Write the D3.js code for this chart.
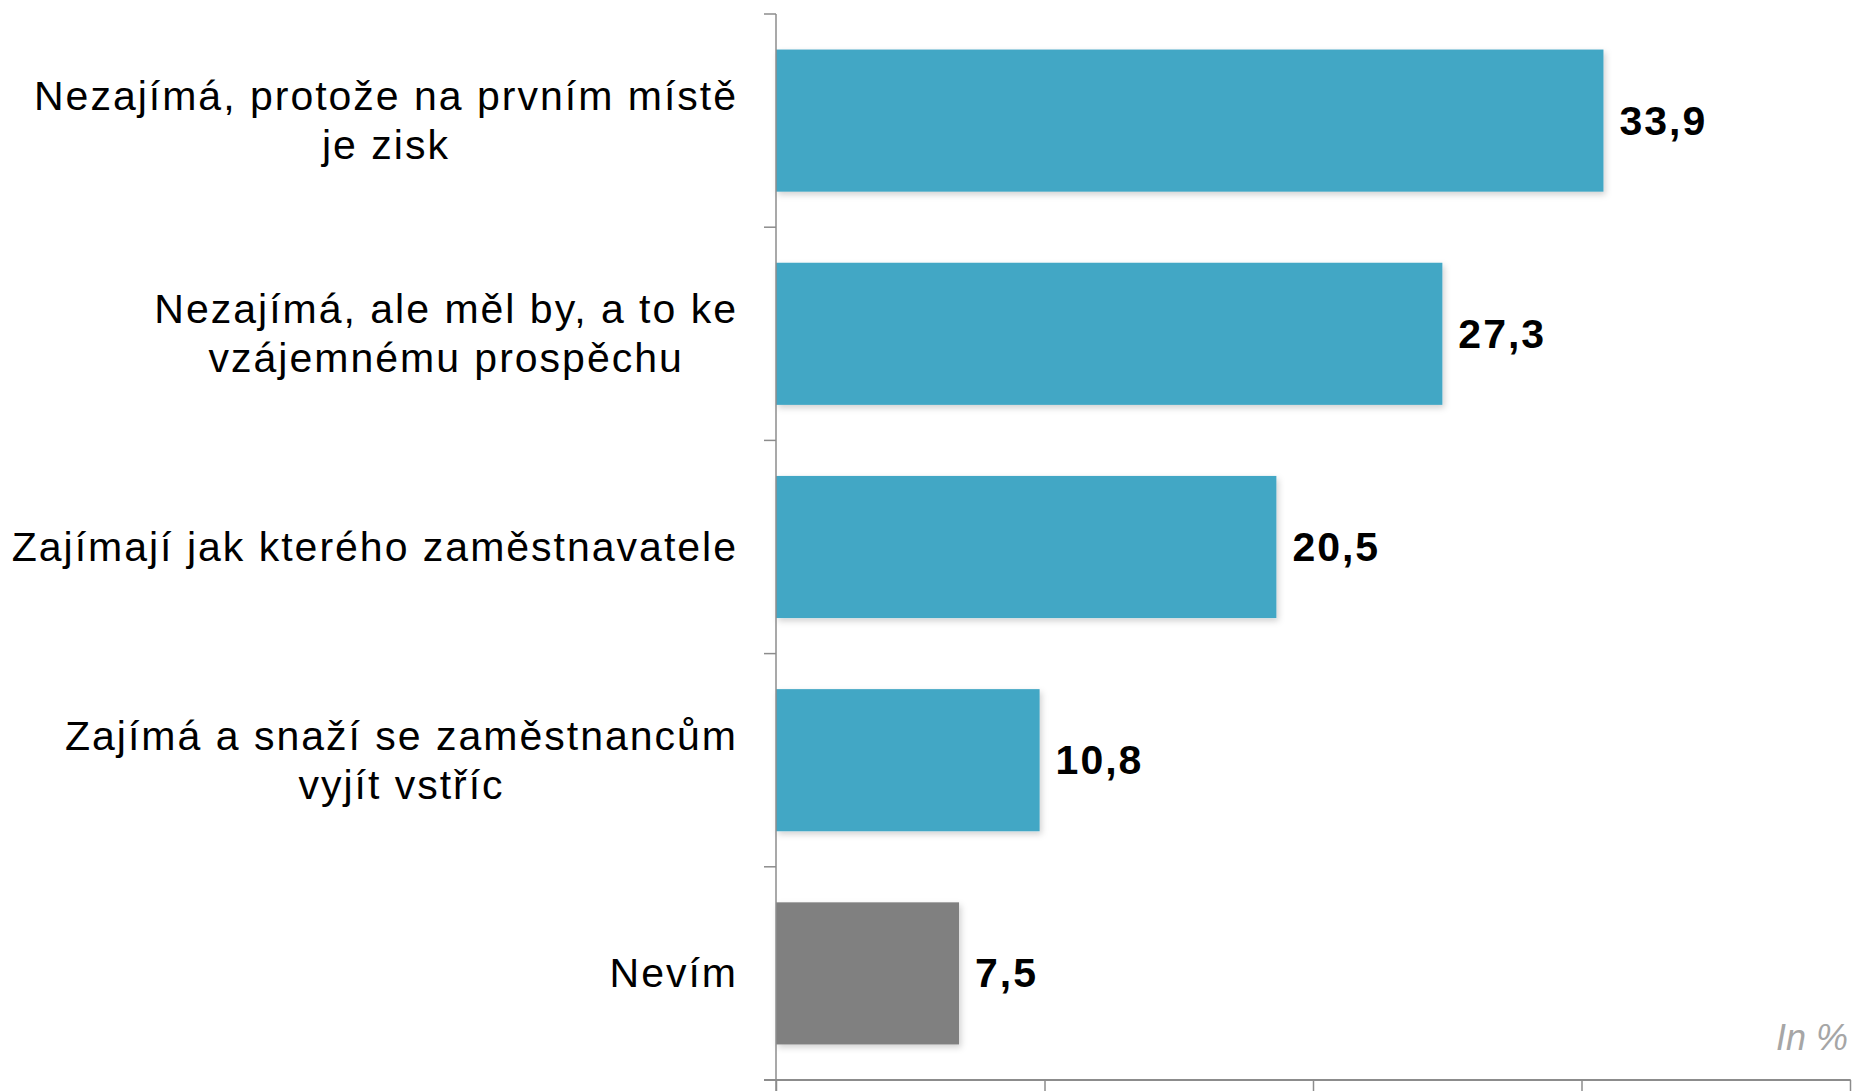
<!DOCTYPE html>
<html>
<head>
<meta charset="utf-8">
<script src="https://cdn.jsdelivr.net/npm/d3@7"></script>
<style>
  html, body { margin: 0; padding: 0; background: #fff; }
  svg { display: block; }
</style>
</head>
<body>
<script>
// Survey answers, one bar per answer (values in %)
const categories = [
  "Nezajímá, protože na prvním místě je zisk",
  "Nezajímá, ale měl by, a to ke vzájemnému prospěchu",
  "Zajímají jak kterého zaměstnavatele",
  "Zajímá a snaží se zaměstnancům vyjít vstříc",
  "Nevím"
];
// How each answer label breaks into lines
const labelLines = [
  ["Nezajímá, protože na prvním místě", "je zisk"],
  ["Nezajímá, ale měl by, a to ke", "vzájemnému prospěchu"],
  ["Zajímají jak kterého zaměstnavatele"],
  ["Zajímá a snaží se zaměstnancům", "vyjít vstříc"],
  ["Nevím"]
];
const values = [33.9, 27.3, 20.5, 10.8, 7.5];
const valueLabels = ["33,9", "27,3", "20,5", "10,8", "7,5"];
const xTicks = [0, 11, 22, 33, 44];
const unitNote = "In %";

const W = 1854, H = 1091;
const blue = "#43a7c5", grey = "#808080", axisCol = "#8c8c8c";
const font = "Liberation Sans, Arial, sans-serif";

const svg = d3.select("body").append("svg").attr("width", W).attr("height", H);

const defs = svg.append("defs");
const f = defs.append("filter").attr("id", "shadow")
  .attr("x", "-5%").attr("y", "-10%").attr("width", "115%").attr("height", "130%");
f.append("feDropShadow").attr("dx", 2).attr("dy", 3).attr("stdDeviation", 3)
  .attr("flood-color", "#000").attr("flood-opacity", 0.18);

const x = d3.scaleLinear().domain([0, 44]).range([776, 1850]);
const y = d3.scaleBand().domain(categories).range([14, 1080])
  .paddingInner(1 / 3).paddingOuter(1 / 6);

// Bars
svg.append("g").selectAll("rect").data(categories).join("rect")
  .attr("x", x(0))
  .attr("y", d => y(d))
  .attr("width", (d, i) => x(values[i]) - x(0))
  .attr("height", y.bandwidth())
  .attr("fill", (d, i) => i === categories.length - 1 ? grey : blue)
  .attr("filter", "url(#shadow)");

// Value labels
svg.append("g").selectAll("text").data(categories).join("text")
  .attr("x", (d, i) => x(values[i]) + 16)
  .attr("y", d => y(d) + y.bandwidth() / 2 + 14)
  .attr("font-family", font)
  .attr("font-weight", "bold")
  .attr("font-size", 41)
  .attr("letter-spacing", 2)
  .attr("fill", "#000")
  .text((d, i) => valueLabels[i]);

// Category labels: block right-aligned against the axis, lines centred within it
const lineGap = 49;
const labelRight = 738;
const lab = svg.append("g").selectAll("g").data(categories).join("g")
  .attr("transform", d => `translate(0, ${y(d) + y.bandwidth() / 2 + 14})`);
lab.each(function (d, i) {
  const g = d3.select(this);
  const lines = labelLines[i];
  const off = -(lines.length - 1) * lineGap / 2;
  const texts = g.selectAll("text").data(lines).join("text")
    .attr("font-family", font)
    .attr("font-size", 41)
    .attr("letter-spacing", 2)
    .attr("fill", "#000")
    .attr("text-anchor", "middle")
    .attr("y", (l, j) => off + j * lineGap)
    .text(l => l);
  let maxW = 0;
  texts.each(function () { maxW = Math.max(maxW, this.getComputedTextLength()); });
  texts.attr("x", labelRight - maxW / 2);
});

// Vertical (category) axis with ticks on band boundaries
const step = y.step();
const y0 = y.range()[0];
const boundaries = d3.range(categories.length).map(i => y0 + i * step);
const yAxis = svg.append("g").attr("stroke", axisCol).attr("stroke-width", 1.5);
yAxis.append("line").attr("x1", x(0)).attr("x2", x(0)).attr("y1", y0).attr("y2", H);
yAxis.selectAll("line.tick").data(boundaries).join("line").attr("class", "tick")
  .attr("x1", x(0) - 12).attr("x2", x(0)).attr("y1", d => d).attr("y2", d => d);

// Horizontal (value) axis, unlabeled
const axisY = y.range()[1];
const xg = svg.append("g").attr("transform", `translate(0, ${axisY})`)
  .call(d3.axisBottom(x).tickValues(xTicks).tickFormat("").tickSizeInner(14).tickSizeOuter(0));
xg.select(".domain").remove();
xg.selectAll("line").attr("stroke", axisCol).attr("stroke-width", 1.5);
svg.append("line").attr("x1", x(0) - 12).attr("x2", x(44) + 0.75)
  .attr("y1", axisY).attr("y2", axisY)
  .attr("stroke", axisCol).attr("stroke-width", 2);

// Unit note
svg.append("text")
  .attr("x", x(44) - 2).attr("y", axisY - 30)
  .attr("text-anchor", "end")
  .attr("font-family", font)
  .attr("font-style", "italic")
  .attr("font-size", 36)
  .attr("fill", "#a6a6a6")
  .text(unitNote);
</script>
</body>
</html>
